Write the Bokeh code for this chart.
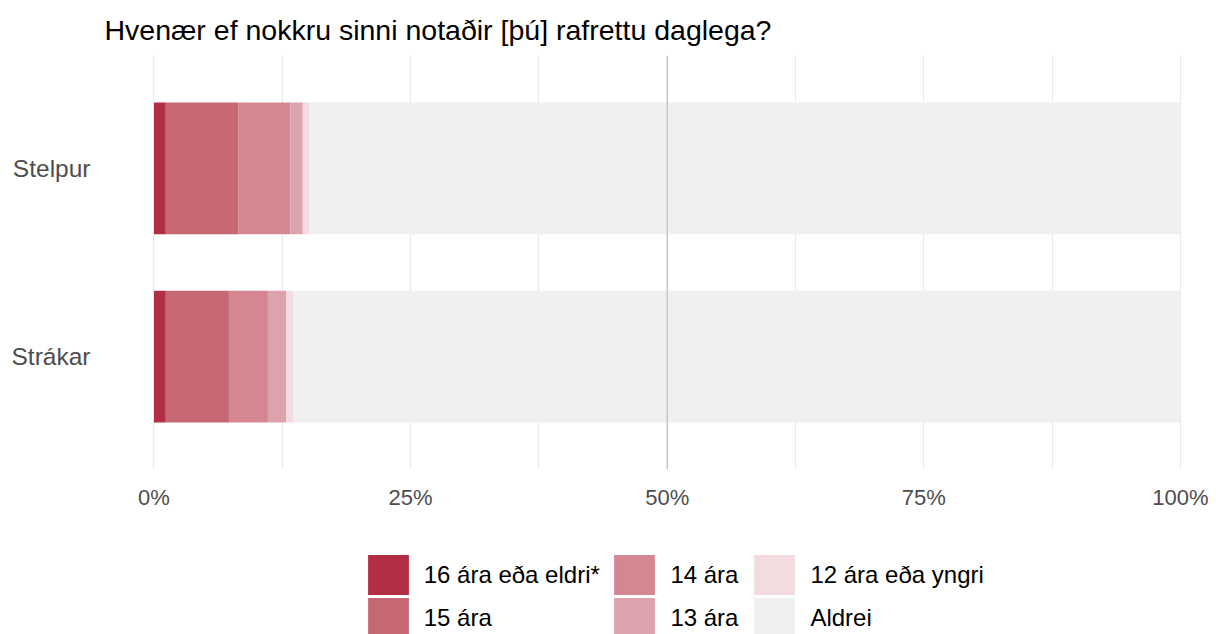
from bokeh.plotting import figure
from bokeh.layouts import column
from bokeh.models import (ColumnDataSource, Range1d, FixedTicker, Legend, LegendItem, Span)
from bokeh.embed import file_html
from bokeh.resources import INLINE

# ---- data ----
categories = ["Strákar", "Stelpur"]
series = ["16 ára eða eldri*", "15 ára", "14 ára", "13 ára", "12 ára eða yngri", "Aldrei"]
v16 = [1.15, 1.15]
v15 = [6.15, 7.05]
v14 = [3.8, 5.1]
v13 = [1.8, 1.2]
v12 = [0.7, 0.6]
aldrei = [86.4, 84.9]
colors = ["#B22E44", "#C66874", "#D48791", "#DBA4AD", "#F3DCE0", "#F0F0F0"]
x_ticks = [0, 25, 50, 75, 100]
x_tick_labels = ["0%", "25%", "50%", "75%", "100%"]
title_text = "Hvenær ef nokkru sinni notaðir [þú] rafrettu daglega?"

ypos = [i + 1 for i in range(len(categories))]
keys = ["s%d" % i for i in range(len(series))]
data = {"y": ypos}
for k, vals in zip(keys, [v16, v15, v14, v13, v12, aldrei]):
    data[k] = vals
source = ColumnDataSource(data)

FONT = "Liberation Sans"

p = figure(width=1216, height=553, output_backend="svg", toolbar_location=None,
           x_range=Range1d(-5.017, 103.51), y_range=Range1d(0.4, 2.6),
           min_border_left=102, min_border_right=0, min_border_top=55, min_border_bottom=84)
p.outline_line_color = None
p.background_fill_color = "white"

renderers = p.hbar_stack(keys, y="y", height=0.7, color=colors, line_color=None, source=source)

# 50% line
p.add_layout(Span(location=50, dimension="height", line_color="#BEBEBE", line_width=1.2))

# title
p.title.text = title_text
p.title.text_font = FONT
p.title.text_font_size = "28.5px"
p.title.text_font_style = "normal"
p.title.text_color = "#000000"
p.title.text_line_height = 1.0
p.title.vertical_align = "top"
p.title.offset = 2
p.title.standoff = 15

# x axis
p.xaxis.ticker = FixedTicker(ticks=x_ticks, minor_ticks=[12.5, 37.5, 62.5, 87.5])
p.xaxis.major_label_overrides = {t: l for t, l in zip(x_ticks, x_tick_labels)}
p.xaxis.axis_line_color = None
p.xaxis.major_tick_line_color = None
p.xaxis.minor_tick_line_color = None
p.xaxis.major_label_text_font = FONT
p.xaxis.major_label_text_font_size = "22px"
p.xaxis.major_label_text_color = "#4D4D4D"
p.xaxis.major_label_standoff = 9

# y axis
p.yaxis.ticker = FixedTicker(ticks=ypos)
p.yaxis.major_label_overrides = {y: c for y, c in zip(ypos, categories)}
p.yaxis.axis_line_color = None
p.yaxis.major_tick_line_color = None
p.yaxis.minor_tick_line_color = None
p.yaxis.major_tick_out = 0
p.yaxis.major_label_text_font = FONT
p.yaxis.major_label_text_font_size = "24.5px"
p.yaxis.major_label_text_color = "#4D4D4D"
p.yaxis.major_label_standoff = 12

# grids
p.xgrid.grid_line_color = "#EBEBEB"
p.xgrid.grid_line_width = 1.2
p.xgrid.minor_grid_line_color = "#EBEBEB"
p.xgrid.minor_grid_line_width = 1.2
p.ygrid.grid_line_color = None

# legend in its own strip below the chart (frames of both strips are aligned)
p2 = figure(width=1216, height=81, output_backend="svg", toolbar_location=None,
            x_range=Range1d(0, 1), y_range=Range1d(0, 1),
            x_axis_type=None, y_axis_type=None,
            min_border_left=102, min_border_right=0, min_border_top=0, min_border_bottom=0)
p2.outline_line_color = None
p2.xgrid.grid_line_color = None
p2.ygrid.grid_line_color = None
# proxy renderers placed outside the visible range, used only for legend keys
proxies = [p2.rect(x=[-10], y=[-10], width=[1], height=[1], fill_color=c,
                   line_color=c, line_width=5.6, line_join="miter")
           for c in colors]

col_x = [263.7, 510.4, 650.4]  # left edge of each legend column, px from frame left
for ci, cx in enumerate(col_x):
    idx = [2 * ci, 2 * ci + 1]
    items = [LegendItem(label=series[i], renderers=[proxies[i]]) for i in idx]
    lg = Legend(items=items, orientation="vertical",
                location=(cx, -5), margin=0, padding=0, spacing=0,
                glyph_width=44, glyph_height=43, label_standoff=14,
                label_text_font=FONT, label_text_font_size="24px",
                label_text_color="#000000", border_line_color=None,
                background_fill_alpha=0)
    p2.add_layout(lg, "center")

layout = column(p, p2, spacing=0)
open("out.html", "w").write(file_html(layout, INLINE))
